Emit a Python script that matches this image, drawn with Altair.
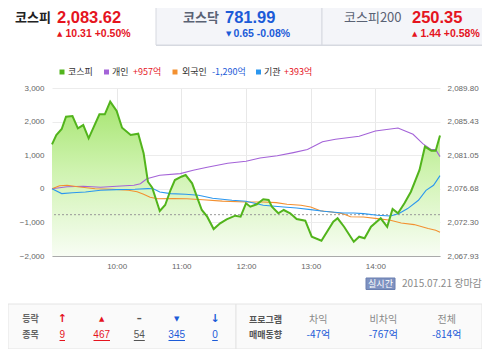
import altair as alt
import pandas as pd

# ---------------- data ----------------
kospi_minutes = [0, 4, 9, 13, 19, 24, 29, 34, 44, 49, 54, 60, 65, 73, 80, 85, 89, 93, 100, 105,
                 110, 114, 120, 124, 130, 135, 139, 144, 150, 156, 162, 170, 175, 180, 184, 190, 196, 201, 204, 210,
                 215, 221, 227, 235, 241, 250, 261, 265, 271, 274, 280, 285, 290, 296, 305, 311, 316, 321, 327, 333,
                 341, 346, 352, 356, 360]
kospi_values = [2082.47, 2083.68, 2084.46, 2086.06, 2086.15, 2084.55, 2084.98, 2083.25, 2086.38, 2086.38,
                2088.02, 2086.81, 2084.63, 2083.68, 2083.85, 2081.30, 2077.60, 2076.82, 2073.79, 2074.57,
                2076.52, 2077.82, 2078.25, 2078.47, 2077.39, 2075.44, 2073.92, 2073.05, 2071.44, 2072.19,
                2072.71, 2073.18, 2073.05, 2074.79, 2074.35, 2074.66, 2075.31, 2075.22, 2074.35, 2073.49,
                2073.92, 2073.49, 2072.75, 2072.53, 2070.44, 2069.92, 2072.39, 2072.84, 2071.74, 2071.09,
                2069.79, 2070.44, 2070.23, 2071.74, 2072.84, 2071.74, 2074.05, 2073.49, 2074.79, 2076.30,
                2079.13, 2082.16, 2081.64, 2081.64, 2083.62]
prev_close = 2073.31

indiv_minutes = [0, 14, 29, 45, 60, 76, 82, 88, 100, 119, 131, 144, 163, 180, 193, 209, 224, 237, 251, 263,
                 285, 300, 321, 335, 344, 352, 356, 360]
indiv_values = [0, 60, 74, 45, 74, 104, 149, 298, 402, 452, 551, 640, 759, 818, 917, 982, 1077, 1167, 1399, 1473,
                1562, 1720, 1809, 1622, 1345, 1167, 1167, 957]

foreign_minutes = [0, 7, 14, 24, 40, 56, 71, 79, 85, 91, 98, 113, 125, 140, 158, 180, 196, 208, 218, 231,
                   240, 249, 259, 270, 277, 289, 302, 314, 324, 336, 349, 356, 360]
foreign_values = [0, 89, 104, 60, 0, -15, -45, -89, -164, -253, -298, -292, -298, -327, -366, -393, -393, -411,
                  -461, -491, -542, -655, -690, -744, -833, -839, -887, -937, -1018, -1065, -1184, -1235, -1290]

inst_minutes = [0, 9, 19, 31, 45, 60, 77, 89, 94, 100, 110, 124, 136, 149, 167, 180, 196, 215, 227, 240,
                252, 270, 280, 289, 302, 314, 322, 330, 340, 347, 354, 360]
inst_values = [0, -143, -119, -95, -45, -24, -15, 6, 0, -95, -143, -164, -193, -283, -342, -372, -491, -542,
               -571, -619, -670, -720, -720, -738, -789, -809, -738, -589, -342, -45, 104, 393]

series_names = ["개인", "외국인", "기관"]
series_colors = ["#a463d8", "#f39030", "#2b97ef"]

left_ticks = [-2000, -1000, 0, 1000, 2000, 3000]
right_ticks = [2067.93, 2072.30, 2076.68, 2081.05, 2085.43, 2089.80]
hour_ticks = [60, 120, 180, 240, 300]

kdf = pd.DataFrame({"t": kospi_minutes, "k": kospi_values})
idf = pd.concat([
    pd.DataFrame({"t": indiv_minutes, "v": indiv_values, "s": series_names[0]}),
    pd.DataFrame({"t": foreign_minutes, "v": foreign_values, "s": series_names[1]}),
    pd.DataFrame({"t": inst_minutes, "v": inst_values, "s": series_names[2]}),
], ignore_index=True)
pdf = pd.DataFrame({"k": [prev_close]})

# ---------------- layout helpers ----------------
W, H = 388, 168
X0, Y0 = 52, 88          # page position of the plot origin
KR = "Noto Sans CJK KR"
LAT = "Liberation Sans"
SYM = "DejaVu Sans"
RED = "#e5141e"
BLUE = "#1c5bd8"
one = pd.DataFrame({"a": [0]})


def T(text, x, y, size=9, color="#333333", font=KR, weight="normal", align="left"):
    return alt.Chart(one).mark_text(text=text, align=align, baseline="middle", fontSize=size,
                                    color=color, font=font, fontWeight=weight).encode(
        x=alt.value(x - X0), y=alt.value(y - Y0))


def R(x1, x2, y1, y2, fill, stroke=None):
    kw = dict(fill=fill)
    if stroke:
        kw.update(stroke=stroke, strokeWidth=1)
    return alt.Chart(one).mark_rect(**kw).encode(
        x=alt.value(x1 - X0), x2=alt.value(x2 - X0), y=alt.value(y1 - Y0), y2=alt.value(y2 - Y0))


def HL(x1, x2, y, color):
    return alt.Chart(one).mark_rule(color=color, strokeWidth=1).encode(
        x=alt.value(x1 - X0), x2=alt.value(x2 - X0), y=alt.value(y - Y0))


# ---------------- plot layers ----------------
x_enc = alt.X("t:Q", scale=alt.Scale(domain=[0, 360], nice=False, zero=False),
              axis=alt.Axis(values=hour_ticks, labelExpr="floor(datum.value/60)+9 + ':00'",
                            grid=True, gridColor="#e8e8e8", domainColor="#aaaaaa", ticks=False,
                            labelPadding=6, title=None))
right_scale = alt.Scale(domain=[right_ticks[0], right_ticks[-1]], nice=False, zero=False)

area = alt.Chart(kdf).mark_area(
    color=alt.Gradient(gradient="linear",
                       stops=[alt.GradientStop(color="#a6e570", offset=0),
                              alt.GradientStop(color="#cff3b0", offset=0.45),
                              alt.GradientStop(color="#f8fdf4", offset=1)],
                       x1=1, x2=1, y1=0, y2=1)).encode(
    x=x_enc,
    y=alt.Y("k:Q", scale=right_scale,
            axis=alt.Axis(orient="right", values=right_ticks, format=",.2f", grid=False, domain=False,
                          ticks=False, labelPadding=7, title=None)),
    y2=alt.datum(right_ticks[0]))

rule = alt.Chart(pdf).mark_rule(color="#999999", strokeDash=[2, 2], strokeWidth=1).encode(
    y=alt.Y("k:Q", scale=right_scale, axis=None))

inv = alt.Chart(idf).mark_line(strokeWidth=1.1).encode(
    x=x_enc,
    y=alt.Y("v:Q", scale=alt.Scale(domain=[left_ticks[0], left_ticks[-1]], nice=False, zero=False),
            axis=alt.Axis(orient="left", values=left_ticks, format=",.0f", grid=True, gridColor="#ececec",
                          domain=False, ticks=False, labelPadding=8, title=None)),
    color=alt.Color("s:N", scale=alt.Scale(domain=series_names, range=series_colors), legend=None),
    detail="s:N")

kline = alt.Chart(kdf).mark_line(color="#52b41c", strokeWidth=2).encode(
    x=x_enc, y=alt.Y("k:Q", scale=right_scale, axis=None))

# ---------------- decorations ----------------
bg = [
    R(156, 322, -2, 45, "#f4f5f9", "#d6d9e0"),
    R(322, 492, -2, 45, "#f4f5f9", "#d6d9e0"),
    R(8, 236, 304, 349, "#fafafa", "#e4e4e4"),
    R(236, 482, 304, 349, "#fafafa", "#e4e4e4"),
    R(366, 395, 278, 289.5, "#7e92c1", "#6a7fb0"),
]

HY = 18
SY = 34
texts = [
    # header tabs
    T("코스피", 15, HY, 13, "#222222", KR, "bold"),
    T("2,083.62", 57, HY, 16.5, RED, LAT, "bold"),
    T("▲", 57, SY, 7, RED, SYM),
    T("10.31 +0.50%", 65.5, SY, 10.5, RED, LAT, "bold"),
    T("코스닥", 183, HY, 13, "#5a6274", KR, "bold"),
    T("781.99", 225, HY, 16.5, BLUE, LAT, "bold"),
    T("▼", 226, SY, 7, BLUE, SYM),
    T("0.65 -0.08%", 233.5, SY, 10.5, BLUE, LAT, "bold"),
    T("코스피200", 344, HY, 13, "#5a6274", KR),
    T("250.35", 412, HY, 16.5, RED, LAT, "bold"),
    T("▲", 412, SY, 7, RED, SYM),
    T("1.44 +0.58%", 420.5, SY, 10.5, RED, LAT, "bold"),
    # legend
    T("코스피", 68, 71.5, 9, "#333333"),
    T("개인", 112, 71.5, 9, "#333333"),
    T("+957억", 133, 71.5, 9, RED),
    T("외국인", 182, 71.5, 9, "#333333"),
    T("-1,290억", 212, 71.5, 9, BLUE),
    T("기관", 264, 71.5, 9, "#333333"),
    T("+393억", 284, 71.5, 9, RED),
    # footer stamp
    T("실시간", 380.5, 283.8, 9, "#ffffff", KR, "normal", "center"),
    T("2015.07.21 장마감", 402, 283.5, 10, "#8a8a8a"),
    # footer left
    T("등락", 30.5, 318.5, 9, "#666666", KR, "bold", "center"),
    T("종목", 30.5, 334.5, 9, "#666666", KR, "bold", "center"),
    T("↑", 62.3, 318.5, 11, RED, SYM, "bold", "center"),
    T("▲", 101.7, 318.5, 7, RED, SYM, "normal", "center"),
    T("–", 139.3, 318.5, 10, "#555555", SYM, "bold", "center"),
    T("▼", 176.7, 318.5, 7, BLUE, SYM, "normal", "center"),
    T("↓", 215, 318.5, 11, BLUE, SYM, "bold", "center"),
    T("9", 62.3, 334.5, 10, RED, LAT, "normal", "center"),
    T("467", 101.7, 334.5, 10, RED, LAT, "normal", "center"),
    T("54", 139.3, 334.5, 10, "#555555", LAT, "normal", "center"),
    T("345", 176.7, 334.5, 10, BLUE, LAT, "normal", "center"),
    T("0", 215, 334.5, 10, BLUE, LAT, "normal", "center"),
    # footer right
    T("프로그램", 249, 320, 9, "#555555", KR, "bold"),
    T("매매동향", 249, 334.5, 9, "#555555", KR, "bold"),
    T("차익", 318.3, 320, 10, "#888888", KR, "normal", "center"),
    T("비차익", 383.3, 320, 10, "#888888", KR, "normal", "center"),
    T("전체", 446.7, 320, 10, "#888888", KR, "normal", "center"),
    T("-47억", 318.3, 334.5, 10, BLUE, KR, "normal", "center"),
    T("-767억", 383.3, 334.5, 10, BLUE, KR, "normal", "center"),
    T("-814억", 446.7, 334.5, 10, BLUE, KR, "normal", "center"),
]

marks = [
    HL(156, 492, 45.5, "#d6d9e0"),
    R(59.5, 64.5, 69.5, 74.5, "#52b41c"),
    R(104, 109, 69.5, 74.5, series_colors[0]),
    R(172.5, 177.5, 69.5, 74.5, series_colors[1]),
    R(256, 261, 69.5, 74.5, series_colors[2]),
    HL(59.5, 65, 340.5, RED),
    HL(93.5, 110, 340.5, RED),
    HL(133.8, 144.8, 340.5, "#555555"),
    HL(168.5, 185, 340.5, BLUE),
    HL(212.2, 217.8, 340.5, BLUE),
]

chart = alt.layer(*bg, area, rule, inv, kline, *marks, *texts).resolve_scale(
    y="independent"
).properties(
    width=W, height=H,
    padding={"left": 44, "top": 80, "right": 42, "bottom": 93},
    autosize=alt.AutoSizeParams(type="none"),
).configure_view(stroke=None).configure_axis(
    labelFont=LAT, labelFontSize=8, labelColor="#666666"
)

chart.save("out.html", embed_options={"renderer": "svg", "actions": False})
